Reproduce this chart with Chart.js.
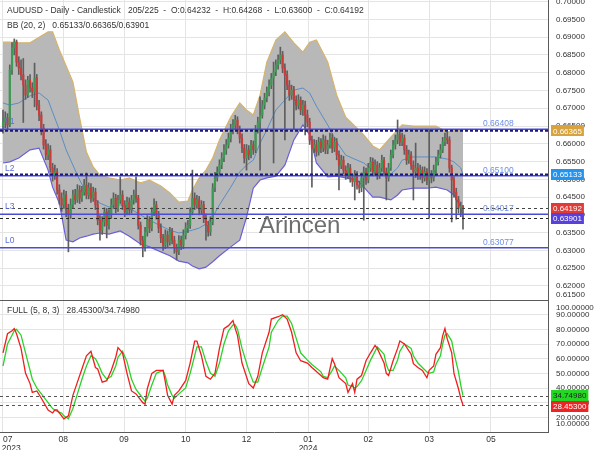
<!DOCTYPE html>
<html>
<head>
<meta charset="utf-8">
<script src="https://cdn.jsdelivr.net/npm/chart.js@4.4.1/dist/chart.umd.min.js"></script>
<style>
  html, body { margin: 0; padding: 0; background: #fff; }
  #wrap { position: relative; width: 600px; height: 450px; }
  #priceChart { position: absolute; left: 0; top: 0; }
  #stochChart { position: absolute; left: 0; top: 300px; }
</style>
</head>
<body>
<div id="wrap">
  <canvas id="priceChart" width="600" height="300"></canvas>
  <canvas id="stochChart" width="600" height="150"></canvas>
</div>
<script>
// Daily candles, index 0 = first visible day
const opens = [
  0.6650, 0.6661, 0.6673, 0.6653, 0.6808, 0.6870, 0.6887, 0.6830, 0.6813, 0.6794,
  0.6765, 0.6737, 0.6779, 0.6757, 0.6746, 0.6785, 0.6709, 0.6681, 0.6644, 0.6597,
  0.6569, 0.6583, 0.6532, 0.6512, 0.6521, 0.6470, 0.6447, 0.6428, 0.6456, 0.6414,
  0.6400, 0.6428, 0.6456, 0.6442, 0.6470, 0.6447, 0.6464, 0.6484, 0.6456, 0.6476,
  0.6447, 0.6464, 0.6428, 0.6385, 0.6357, 0.6380, 0.6408, 0.6371, 0.6400, 0.6428,
  0.6447, 0.6419, 0.6442, 0.6456, 0.6428, 0.6408, 0.6436, 0.6414, 0.6442, 0.6456,
  0.6447, 0.6371, 0.6329, 0.6307, 0.6352, 0.6385, 0.6363, 0.6408, 0.6428, 0.6400,
  0.6363, 0.6335, 0.6315, 0.6343, 0.6324, 0.6352, 0.6329, 0.6307, 0.6296, 0.6329,
  0.6315, 0.6343, 0.6363, 0.6371, 0.6408, 0.6447, 0.6428, 0.6442, 0.6414, 0.6428,
  0.6391, 0.6371, 0.6352, 0.6380, 0.6476, 0.6504, 0.6521, 0.6541, 0.6560, 0.6583,
  0.6597, 0.6616, 0.6639, 0.6653, 0.6667, 0.6639, 0.6616, 0.6588, 0.6560, 0.6583,
  0.6569, 0.6597, 0.6583, 0.6639, 0.6661, 0.6681, 0.6709, 0.6729, 0.6746, 0.6765,
  0.6785, 0.6802, 0.6822, 0.6836, 0.6850, 0.6813, 0.6794, 0.6765, 0.6737, 0.6751,
  0.6723, 0.6709, 0.6723, 0.6695, 0.6709, 0.6681, 0.6661, 0.6611, 0.6588, 0.6597,
  0.6577, 0.6605, 0.6588, 0.6611, 0.6583, 0.6597, 0.6616, 0.6588, 0.6605, 0.6569,
  0.6540, 0.6554, 0.6526, 0.6512, 0.6532, 0.6504, 0.6493, 0.6512, 0.6484, 0.6476,
  0.6504, 0.6521, 0.6498, 0.6532, 0.6549, 0.6521, 0.6540, 0.6512, 0.6532, 0.6554,
  0.6521, 0.6504, 0.6532, 0.6569, 0.6597, 0.6611, 0.6625, 0.6605, 0.6616, 0.6583,
  0.6554, 0.6569, 0.6540, 0.6521, 0.6532, 0.6512, 0.6526, 0.6504, 0.6521, 0.6498,
  0.6512, 0.6504, 0.6526, 0.6549, 0.6569, 0.6583, 0.6605, 0.6616, 0.6611, 0.6532,
  0.6498, 0.6464, 0.6442, 0.6419, 0.64232
];
const highs = [
  0.6695, 0.6690, 0.6685, 0.6822, 0.6885, 0.6895, 0.6892, 0.6845, 0.6836, 0.6840,
  0.6780, 0.6790, 0.6795, 0.6772, 0.6827, 0.6795, 0.6722, 0.6690, 0.6655, 0.6612,
  0.6600, 0.6595, 0.6545, 0.6540, 0.6530, 0.6485, 0.6462, 0.6470, 0.6466, 0.6430,
  0.6445, 0.6470, 0.6472, 0.6485, 0.6482, 0.6480, 0.6500, 0.6518, 0.6490, 0.6488,
  0.6478, 0.6475, 0.6440, 0.6398, 0.6395, 0.6420, 0.6418, 0.6415, 0.6445, 0.6462,
  0.6458, 0.6455, 0.6507, 0.6468, 0.6440, 0.6450, 0.6448, 0.6455, 0.6470, 0.6507,
  0.6455, 0.6380, 0.6340, 0.6365, 0.6398, 0.6395, 0.6420, 0.6445, 0.6438, 0.6410,
  0.6375, 0.6345, 0.6358, 0.6355, 0.6365, 0.6362, 0.6340, 0.6318, 0.6342, 0.6340,
  0.6358, 0.6378, 0.6385, 0.6420, 0.6526, 0.6462, 0.6455, 0.6452, 0.6440, 0.6438,
  0.6402, 0.6382, 0.6395, 0.6488, 0.6520, 0.6535, 0.6555, 0.6575, 0.6598, 0.6612,
  0.6630, 0.6655, 0.6668, 0.6680, 0.6676, 0.6650, 0.6628, 0.6598, 0.6598, 0.6595,
  0.6610, 0.6608, 0.6652, 0.6675, 0.6732, 0.6722, 0.6742, 0.6760, 0.6780, 0.6798,
  0.6830, 0.6836, 0.6850, 0.6872, 0.6860, 0.6825, 0.6805, 0.6778, 0.6765, 0.6762,
  0.6735, 0.6738, 0.6732, 0.6722, 0.6720, 0.6695, 0.6672, 0.6622, 0.6612, 0.6610,
  0.6618, 0.6615, 0.6625, 0.6622, 0.6610, 0.6630, 0.6628, 0.6618, 0.6615, 0.6580,
  0.6568, 0.6565, 0.6538, 0.6545, 0.6542, 0.6515, 0.6525, 0.6522, 0.6495, 0.6518,
  0.6535, 0.6532, 0.6545, 0.6562, 0.6560, 0.6555, 0.6550, 0.6545, 0.6568, 0.6562,
  0.6532, 0.6545, 0.6582, 0.6610, 0.6625, 0.6667, 0.6638, 0.6630, 0.6625, 0.6595,
  0.6582, 0.6578, 0.6552, 0.6602, 0.6545, 0.6540, 0.6535, 0.6535, 0.6530, 0.6639,
  0.6525, 0.6540, 0.6562, 0.6582, 0.6598, 0.6618, 0.6630, 0.6633, 0.6620, 0.6540,
  0.6508, 0.6475, 0.6452, 0.6436, 0.64268
];
const lows = [
  0.6630, 0.6645, 0.6638, 0.6648, 0.6795, 0.6850, 0.6818, 0.6795, 0.6780, 0.6660,
  0.6725, 0.6730, 0.6745, 0.6730, 0.6704, 0.6695, 0.6665, 0.6625, 0.6585, 0.6555,
  0.6555, 0.6520, 0.6495, 0.6500, 0.6458, 0.6430, 0.6410, 0.6418, 0.6395, 0.6296,
  0.6390, 0.6418, 0.6430, 0.6435, 0.6432, 0.6438, 0.6455, 0.6445, 0.6445, 0.6435,
  0.6438, 0.6415, 0.6372, 0.6329, 0.6345, 0.6368, 0.6335, 0.6360, 0.6390, 0.6418,
  0.6405, 0.6410, 0.6432, 0.6415, 0.6395, 0.6400, 0.6400, 0.6405, 0.6430, 0.6435,
  0.6360, 0.6315, 0.6282, 0.6298, 0.6340, 0.6350, 0.6355, 0.6398, 0.6388, 0.6350,
  0.6322, 0.6300, 0.6305, 0.6310, 0.6315, 0.6318, 0.6292, 0.6273, 0.6288, 0.6302,
  0.6305, 0.6332, 0.6350, 0.6362, 0.6400, 0.6415, 0.6418, 0.6400, 0.6402, 0.6378,
  0.6329, 0.6340, 0.6342, 0.6372, 0.6465, 0.6495, 0.6510, 0.6530, 0.6550, 0.6570,
  0.6588, 0.6605, 0.6628, 0.6642, 0.6628, 0.6602, 0.6575, 0.6546, 0.6526, 0.6555,
  0.6560, 0.6570, 0.6575, 0.6630, 0.6526, 0.6672, 0.6698, 0.6718, 0.6735, 0.6755,
  0.6546, 0.6792, 0.6810, 0.6825, 0.6800, 0.6611, 0.6752, 0.6722, 0.6725, 0.6640,
  0.6695, 0.6698, 0.6682, 0.6680, 0.6625, 0.6648, 0.6598, 0.6478, 0.6575, 0.6565,
  0.6568, 0.6575, 0.6578, 0.6572, 0.6572, 0.6588, 0.6575, 0.6578, 0.6555, 0.6470,
  0.6530, 0.6515, 0.6500, 0.6502, 0.6492, 0.6480, 0.6442, 0.6472, 0.6462, 0.6465,
  0.6385, 0.6486, 0.6490, 0.6522, 0.6510, 0.6512, 0.6500, 0.6502, 0.6522, 0.6510,
  0.6442, 0.6495, 0.6525, 0.6560, 0.6585, 0.6600, 0.6595, 0.6595, 0.6570, 0.6542,
  0.6545, 0.6528, 0.6442, 0.6505, 0.6500, 0.6500, 0.6490, 0.6495, 0.6485, 0.6391,
  0.6490, 0.6495, 0.6518, 0.6540, 0.6560, 0.6575, 0.6595, 0.6600, 0.6520, 0.6380,
  0.6450, 0.6388, 0.6405, 0.6395, 0.63600
];
const closes = [
  0.6661, 0.6673, 0.6653, 0.6808, 0.6870, 0.6887, 0.6830, 0.6813, 0.6794, 0.6765,
  0.6737, 0.6779, 0.6757, 0.6746, 0.6785, 0.6709, 0.6681, 0.6644, 0.6597, 0.6569,
  0.6583, 0.6532, 0.6512, 0.6521, 0.6470, 0.6447, 0.6428, 0.6456, 0.6414, 0.6400,
  0.6428, 0.6456, 0.6442, 0.6470, 0.6447, 0.6464, 0.6484, 0.6456, 0.6476, 0.6447,
  0.6464, 0.6428, 0.6385, 0.6357, 0.6380, 0.6408, 0.6371, 0.6400, 0.6428, 0.6447,
  0.6419, 0.6442, 0.6456, 0.6428, 0.6408, 0.6436, 0.6414, 0.6442, 0.6456, 0.6447,
  0.6371, 0.6329, 0.6307, 0.6352, 0.6385, 0.6363, 0.6408, 0.6428, 0.6400, 0.6363,
  0.6335, 0.6315, 0.6343, 0.6324, 0.6352, 0.6329, 0.6307, 0.6296, 0.6329, 0.6315,
  0.6343, 0.6363, 0.6371, 0.6408, 0.6447, 0.6428, 0.6442, 0.6414, 0.6428, 0.6391,
  0.6371, 0.6352, 0.6380, 0.6476, 0.6504, 0.6521, 0.6541, 0.6560, 0.6583, 0.6597,
  0.6616, 0.6639, 0.6653, 0.6667, 0.6639, 0.6616, 0.6588, 0.6560, 0.6583, 0.6569,
  0.6597, 0.6583, 0.6639, 0.6661, 0.6681, 0.6709, 0.6729, 0.6746, 0.6765, 0.6785,
  0.6802, 0.6822, 0.6836, 0.6850, 0.6813, 0.6794, 0.6765, 0.6737, 0.6751, 0.6723,
  0.6709, 0.6723, 0.6695, 0.6709, 0.6681, 0.6661, 0.6611, 0.6588, 0.6597, 0.6577,
  0.6605, 0.6588, 0.6611, 0.6583, 0.6597, 0.6616, 0.6588, 0.6605, 0.6569, 0.6540,
  0.6554, 0.6526, 0.6512, 0.6532, 0.6504, 0.6493, 0.6512, 0.6484, 0.6476, 0.6504,
  0.6521, 0.6498, 0.6532, 0.6549, 0.6521, 0.6540, 0.6512, 0.6532, 0.6554, 0.6521,
  0.6504, 0.6532, 0.6569, 0.6597, 0.6611, 0.6625, 0.6605, 0.6616, 0.6583, 0.6554,
  0.6569, 0.6540, 0.6521, 0.6532, 0.6512, 0.6526, 0.6504, 0.6521, 0.6498, 0.6512,
  0.6504, 0.6526, 0.6549, 0.6569, 0.6583, 0.6605, 0.6616, 0.6611, 0.6532, 0.6498,
  0.6464, 0.6442, 0.6419, 0.6423, 0.64192
];

// Bollinger bands (20, 2) at these candle indices
const bbIndex = [
  0, 3, 7, 12, 16, 20, 22, 25, 28, 31, 34, 37, 40, 43, 47, 52, 56, 61, 65, 70,
  74, 78, 82, 84, 87, 90, 93, 96, 101, 105, 108, 111, 114, 117, 121, 125, 129, 133, 136, 139,
  144, 148, 152, 157, 160, 164, 167, 172, 175, 177, 182, 188, 192, 197, 200, 203, 204
];
const bbUpper = [
  0.6886, 0.6886, 0.6884, 0.6884, 0.6900, 0.6915, 0.6915, 0.6864, 0.6819, 0.6774,
  0.6673, 0.6577, 0.6535, 0.6512, 0.6504, 0.6498, 0.6504, 0.6490, 0.6498, 0.6481,
  0.6462, 0.6436, 0.6439, 0.6470, 0.6504, 0.6526, 0.6560, 0.6611, 0.6675, 0.6715,
  0.6695, 0.6681, 0.6737, 0.6830, 0.6892, 0.6915, 0.6884, 0.6858, 0.6886, 0.6892,
  0.6830, 0.6737, 0.6675, 0.6644, 0.6625, 0.6594, 0.6583, 0.6619, 0.6639, 0.6653,
  0.6650, 0.6650, 0.6650, 0.6633, 0.6639, 0.6639, 0.66365
];
const bbMiddle = [
  0.6715, 0.6709, 0.6715, 0.6735, 0.6743, 0.6723, 0.6689, 0.6639, 0.6583, 0.6540,
  0.6498, 0.6464, 0.6448, 0.6433, 0.6422, 0.6428, 0.6419, 0.6400, 0.6385, 0.6369,
  0.6357, 0.6349, 0.6354, 0.6357, 0.6363, 0.6374, 0.6394, 0.6428, 0.6478, 0.6521,
  0.6540, 0.6554, 0.6602, 0.6639, 0.6695, 0.6723, 0.6751, 0.6757, 0.6743, 0.6706,
  0.6653, 0.6605, 0.6568, 0.6554, 0.6546, 0.6526, 0.6518, 0.6515, 0.6532, 0.6554,
  0.6563, 0.6563, 0.6563, 0.6557, 0.6549, 0.6532, 0.65133
];
const bbLower = [
  0.6546, 0.6549, 0.6560, 0.6583, 0.6588, 0.6526, 0.6478, 0.6433, 0.6329, 0.6324,
  0.6335, 0.6340, 0.6346, 0.6349, 0.6346, 0.6355, 0.6340, 0.6318, 0.6310, 0.6296,
  0.6285, 0.6270, 0.6265, 0.6256, 0.6248, 0.6253, 0.6268, 0.6285, 0.6310, 0.6329,
  0.6394, 0.6475, 0.6498, 0.6504, 0.6509, 0.6540, 0.6611, 0.6653, 0.6625, 0.6546,
  0.6507, 0.6509, 0.6504, 0.6498, 0.6478, 0.6450, 0.6450, 0.6442, 0.6456, 0.6470,
  0.6475, 0.6475, 0.6478, 0.6470, 0.6456, 0.6422, 0.63901
];

// Stochastic FULL (5, 8, 3): %K (red) and %D (green)
const stochIndex = [
  0, 2, 4, 5, 6, 8, 10, 12, 13, 15, 17, 20, 22, 23, 24, 26, 27, 29, 31, 33,
  35, 37, 39, 41, 42, 44, 46, 48, 50, 51, 53, 55, 57, 59, 62, 63, 64, 66, 68, 71,
  72, 73, 75, 76, 78, 81, 83, 85, 86, 88, 90, 92, 94, 96, 98, 100, 102, 103, 104, 106,
  109, 111, 113, 115, 118, 119, 122, 124, 126, 128, 130, 132, 135, 137, 141, 142, 144, 146, 147, 149,
  152, 153, 155, 156, 157, 159, 161, 163, 165, 166, 169, 170, 171, 173, 175, 176, 178, 181, 182, 184,
  186, 188, 189, 191, 192, 194, 195, 196, 197, 199, 200, 202, 203, 204
];
const stochK = [
  64, 77, 79, 80.5, 77, 67, 50, 43, 37, 38, 33, 25, 23, 25, 25, 21, 19, 21, 35, 44,
  53, 62, 65, 54, 53, 44, 45, 52, 61, 67.5, 64, 50, 38, 36, 30, 29, 39.5, 50, 52, 52,
  44, 35, 29, 35, 38, 45, 57, 72, 72, 62, 48, 46, 50, 67, 80.5, 82.5, 86, 80.5, 75.7, 57,
  43, 40, 48, 64, 78, 87, 88.6, 90, 87, 78, 64, 58.6, 57, 54, 48.5, 47, 46, 60, 56.6, 47,
  43, 37, 43, 37, 46, 48.5, 58.6, 64, 69, 67, 57, 50, 48.5, 58.6, 67, 72, 70, 63, 56.6, 54,
  52, 47, 52, 55, 63, 67.5, 75.7, 80.5, 73.6, 64, 50, 39.5, 33, 28.453
];
const stochD = [
  55, 70, 76, 79, 80, 76, 64, 52, 46, 40, 36, 30, 26, 25, 24, 23, 21, 19, 26, 36,
  46, 55, 62, 60, 57, 50, 46, 48, 55, 61, 65, 58, 46, 39, 33, 31, 33, 42, 50, 52,
  48, 42, 35, 33, 36, 40, 50, 62, 68, 68, 58, 50, 48, 57, 70, 79, 83, 83, 80, 67,
  52, 44, 44, 54, 68, 78, 86, 89, 89, 84, 74, 64, 59, 56, 51, 48, 47, 52, 55, 52,
  47, 42, 41, 40, 41, 45, 52, 59, 65, 68, 63, 56, 52, 52, 59, 65, 70, 67, 62, 57,
  54, 51, 50, 51, 56, 62, 70, 76, 77, 72, 64, 51, 42, 34.7498
];

// Horizontal levels
const levelNames = ['L1', 'L2', 'L3', 'L0'];
const levelValues = [0.66408, 0.65100, 0.64017, 0.63077];

// Month gridlines (candle index) and axis labels
const monthTicks = [0, 26.7, 53.7, 81, 108, 135.3, 162, 189, 216.4];
const monthLabels = ['07', '08', '09', '10', '12', '01', '02', '03', '05'];
const yearLabels = ['2023', '', '', '', '', '2024', '', '', ''];

const priceTicks = [0.620, 0.625, 0.630, 0.635, 0.640, 0.645, 0.650, 0.655, 0.660,
  0.665, 0.670, 0.675, 0.680, 0.685, 0.690, 0.695, 0.700];
const stochTicks = [20, 30, 40, 50, 60, 70, 80, 90];

const FONT = '"Liberation Sans", Arial, sans-serif';
const gridColor = '#e4e4e4';
const axisColor = '#5a5a5a';
const textColor = '#333';

const last = closes.length - 1;
const bbMid = bbMiddle[bbMiddle.length - 1];
const bbUp = bbUpper[bbUpper.length - 1];
const bbLo = bbLower[bbLower.length - 1];
const kLast = stochK[stochK.length - 1];
const dLast = stochD[stochD.length - 1];

function fitRightAxis(s) {
  s.width = 52;
  s.paddingTop = 0;
  s.paddingBottom = 0;
}

function valueBox(ctx, text, py, bg, fg) {
  ctx.font = '8px ' + FONT;
  const w = ctx.measureText(text).width + 4;
  ctx.fillStyle = bg;
  ctx.fillRect(551, Math.round(py - 5.5), w, 11);
  ctx.fillStyle = fg;
  ctx.textAlign = 'left';
  ctx.textBaseline = 'middle';
  ctx.fillText(text, 553, py + 0.5);
}

function hline(ctx, area, py, color, width, dash) {
  ctx.beginPath();
  ctx.setLineDash(dash);
  ctx.strokeStyle = color;
  ctx.lineWidth = width;
  ctx.moveTo(area.left, py);
  ctx.lineTo(area.right, py);
  ctx.stroke();
  ctx.setLineDash([]);
}

const priceOverlay = {
  id: 'priceOverlay',
  afterDatasetsDraw(chart) {
    const { ctx, chartArea: a, scales: { y } } = chart;
    ctx.save();
    levelValues.forEach(v => hline(ctx, a, y.getPixelForValue(v), '#4b4bd8', 1.5, []));
    hline(ctx, a, y.getPixelForValue(bbUp), '#16167c', 2, [3, 2]);
    hline(ctx, a, y.getPixelForValue(bbMid), '#16167c', 2, [3, 2]);
    hline(ctx, a, Math.round(y.getPixelForValue(closes[last])) + 0.5, '#444', 1, [3, 3]);
    hline(ctx, a, Math.round(y.getPixelForValue(bbLo)) + 0.5, '#222', 1, [3, 3]);

    ctx.font = '8.5px ' + FONT;
    ctx.textAlign = 'left';
    ctx.textBaseline = 'alphabetic';
    levelValues.forEach((v, i) => {
      const py = y.getPixelForValue(v);
      ctx.fillStyle = '#6d8fe6';
      ctx.fillText(v.toFixed(5), 483, py - 3);
      ctx.fillStyle = '#5b6cd9';
      ctx.fillText(levelNames[i], 5, py - 5);
    });

    ctx.font = '24px ' + FONT;
    ctx.fillStyle = 'rgba(85,85,85,0.85)';
    ctx.fillText('Arincen', 259, 233);
    ctx.restore();
  },
  afterDraw(chart) {
    const { ctx, chartArea: a, scales: { y } } = chart;
    ctx.save();
    ctx.font = '8px ' + FONT;
    ctx.fillStyle = textColor;
    ctx.textAlign = 'left';
    ctx.textBaseline = 'middle';
    ctx.fillText((0.615).toFixed(5), 556, Math.min(y.getPixelForValue(0.615), a.bottom) - 5);

    valueBox(ctx, bbUp.toFixed(5), y.getPixelForValue(bbUp), '#d8a23c', '#fff');
    valueBox(ctx, bbMid.toFixed(5), y.getPixelForValue(bbMid), '#2393f0', '#fff');
    valueBox(ctx, closes[last].toFixed(5), y.getPixelForValue(closes[last]), '#e23a36', '#fff');
    valueBox(ctx, bbLo.toFixed(5), y.getPixelForValue(bbLo), '#5840dc', '#fff');

    ctx.font = '8.5px ' + FONT;
    ctx.fillStyle = textColor;
    ctx.textBaseline = 'middle';
    ctx.fillText('AUDUSD - Daily - Candlestick   ' + closes.length + '/225  -  O:' + opens[last].toFixed(5) +
      '  -  H:' + highs[last].toFixed(5) + '  -  L:' + lows[last].toFixed(5) + '  -  C:' + closes[last].toFixed(5), 7, 11);
    ctx.fillText('BB (20, 2)   ' + bbMid.toFixed(5) + '/' + bbUp.toFixed(5) + '/' + bbLo.toFixed(5), 7, 26);
    ctx.restore();
  }
};

const stochOverlay = {
  id: 'stochOverlay',
  afterDatasetsDraw(chart) {
    const { ctx, chartArea: a, scales: { y } } = chart;
    ctx.save();
    hline(ctx, a, Math.round(y.getPixelForValue(dLast)) + 0.5, '#555', 1, [3, 3]);
    hline(ctx, a, Math.round(y.getPixelForValue(kLast)) + 0.5, '#555', 1, [3, 3]);
    ctx.restore();
  },
  afterDraw(chart) {
    const { ctx, chartArea: a, scales: { y } } = chart;
    ctx.save();
    ctx.strokeStyle = axisColor;
    ctx.lineWidth = 1;
    ctx.beginPath();
    ctx.moveTo(0, 0.5);
    ctx.lineTo(a.right, 0.5);
    ctx.stroke();

    ctx.font = '8px ' + FONT;
    ctx.fillStyle = textColor;
    ctx.textAlign = 'left';
    ctx.textBaseline = 'middle';
    ctx.fillText((100).toFixed(5), 556, y.getPixelForValue(100) + 8);
    ctx.fillText((10).toFixed(5), 556, y.getPixelForValue(10) - 8);

    valueBox(ctx, dLast.toFixed(5), y.getPixelForValue(dLast), '#25d625', '#222');
    valueBox(ctx, kLast.toFixed(5), y.getPixelForValue(kLast) + 1.5, '#ee2424', '#fff');

    ctx.font = '8.5px ' + FONT;
    ctx.fillStyle = textColor;
    ctx.fillText('FULL (5, 8, 3)   ' + kLast.toFixed(5) + '/' + dLast.toFixed(5), 7, 11);
    ctx.restore();
  }
};

const xScale = (showLabels) => ({
  type: 'linear',
  min: -1.33,
  max: 241.7,
  offset: false,
  afterBuildTicks: s => { s.ticks = monthTicks.map(v => ({ value: v })); },
  afterFit: s => { s.height = showLabels ? 18 : 0; s.paddingLeft = 0; s.paddingRight = 0; },
  grid: { color: gridColor, drawTicks: false, offset: false },
  border: { display: showLabels, color: axisColor },
  ticks: {
    display: showLabels,
    autoSkip: false,
    maxRotation: 0,
    padding: 3,
    color: textColor,
    font: { family: FONT, size: 8.5, lineHeight: 1.1 },
    callback: (v, i) => {
      let m = monthLabels[i], yr = yearLabels[i];
      if (i === 0) { m = '    ' + m; yr = '       ' + yr; }
      return yr ? [m, yr] : m;
    }
  }
});

new Chart(document.getElementById('priceChart'), {
  type: 'bar',
  data: {
    datasets: [
      {
        type: 'line', label: 'BB upper',
        data: bbIndex.map((x, i) => ({ x, y: bbUpper[i] })),
        borderColor: '#d6b46a', borderWidth: 1.2, pointRadius: 0, fill: false, order: 10
      },
      {
        type: 'line', label: 'BB lower',
        data: bbIndex.map((x, i) => ({ x, y: bbLower[i] })),
        borderColor: '#6b5fd8', borderWidth: 1.2, pointRadius: 0,
        fill: '-1', backgroundColor: '#b8b8b8', order: 10
      },
      {
        type: 'line', label: 'BB middle',
        data: bbIndex.map((x, i) => ({ x, y: bbMiddle[i] })),
        borderColor: '#5b8dc4', borderWidth: 1, pointRadius: 0, fill: false, order: 9
      },
      {
        type: 'bar', label: 'wick',
        data: lows.map((lo, i) => ({ x: i, y: [lo, highs[i]] })),
        backgroundColor: '#5e5e5e', barThickness: 1, grouped: false, order: 5
      },
      {
        type: 'bar', label: 'body',
        data: opens.map((o, i) => ({ x: i, y: [o, closes[i]] })),
        backgroundColor: c => closes[c.dataIndex] >= opens[c.dataIndex] ? '#3a9c52' : '#cc3a3a',
        barThickness: 1.5, minBarLength: 1, grouped: false, order: 4
      }
    ]
  },
  options: {
    responsive: false,
    animation: false,
    events: [],
    layout: { padding: 0 },
    plugins: { legend: { display: false }, tooltip: { enabled: false } },
    scales: {
      x: xScale(false),
      y: {
        type: 'linear',
        position: 'right',
        min: 0.61605,
        max: 0.70046,
        afterBuildTicks: s => { s.ticks = priceTicks.map(v => ({ value: v })); },
        afterFit: fitRightAxis,
        grid: { color: gridColor, drawTicks: false },
        border: { color: axisColor },
        ticks: { padding: 8, color: textColor, font: { family: FONT, size: 8 }, callback: v => v.toFixed(5) }
      }
    }
  },
  plugins: [priceOverlay]
});

new Chart(document.getElementById('stochChart'), {
  type: 'line',
  data: {
    datasets: [
      {
        label: '%K', data: stochIndex.map((x, i) => ({ x, y: stochK[i] })),
        borderColor: '#f01e1e', borderWidth: 1.3, pointRadius: 0, fill: false, order: 0
      },
      {
        label: '%D', data: stochIndex.map((x, i) => ({ x, y: stochD[i] })),
        borderColor: '#2ad22a', borderWidth: 1.3, pointRadius: 0, fill: false, order: 1
      }
    ]
  },
  options: {
    responsive: false,
    animation: false,
    events: [],
    layout: { padding: 0 },
    plugins: { legend: { display: false }, tooltip: { enabled: false } },
    scales: {
      x: xScale(true),
      y: {
        type: 'linear',
        position: 'right',
        min: 10,
        max: 100,
        afterBuildTicks: s => { s.ticks = stochTicks.map(v => ({ value: v })); },
        afterFit: fitRightAxis,
        grid: { color: gridColor, drawTicks: false },
        border: { color: axisColor },
        ticks: { padding: 8, color: textColor, font: { family: FONT, size: 8 }, callback: v => v.toFixed(5) }
      }
    }
  },
  plugins: [stochOverlay]
});
</script>
</body>
</html>
